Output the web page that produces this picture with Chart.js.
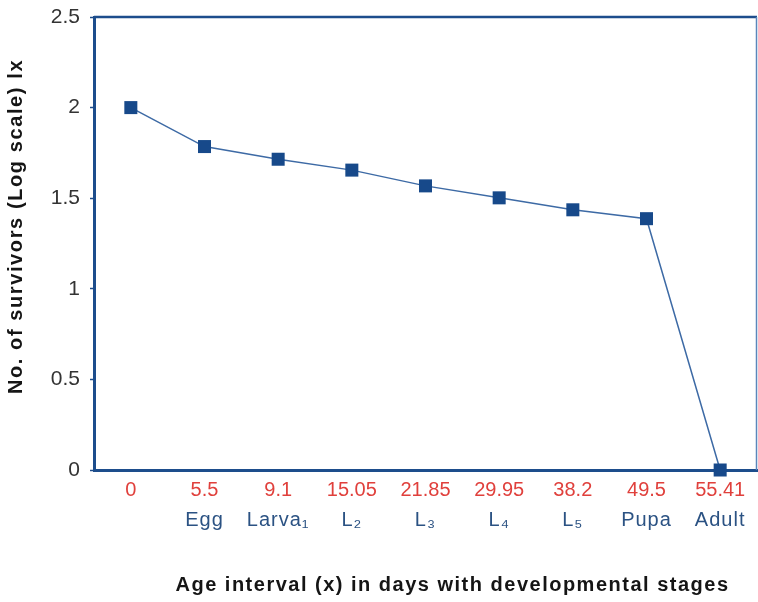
<!DOCTYPE html>
<html>
<head>
<meta charset="utf-8">
<script src="https://cdn.jsdelivr.net/npm/chart.js@4"></script>
<style>
  html, body { margin: 0; padding: 0; background: #fff; }
  #wrap { width: 758px; height: 602px; }
</style>
</head>
<body>
<div id="wrap"><canvas id="myChart"></canvas></div>
<script>
const ageDays = ['0', '5.5', '9.1', '15.05', '21.85', '29.95', '38.2', '49.5', '55.41'];
const stages = ['', 'Egg', 'Larva₁', 'L₂', 'L₃', 'L₄', 'L₅', 'Pupa', 'Adult'];
const survivorsLog = [2.0, 1.785, 1.715, 1.655, 1.568, 1.502, 1.436, 1.387, 0];
const yTicks = [0, 0.5, 1, 1.5, 2, 2.5];

const frameBlue = '#1d4d8c';
const font = "'Liberation Sans', Arial, sans-serif";

// spacing and small shifts for axis text (canvas has no css letter-spacing)
const textTweaks = {
    x: { labels: '0px' },
    stage: { labels: '1px', title: '1.5px', dx: 27, dy: 0 },
    y: { labels: '0px', title: '1.6px', dx: 0, dy: -17 }
};

const textSpacing = {
    id: 'textSpacing',
    beforeDraw(chart) {
        Object.values(chart.scales).forEach(scale => {
            const tw = textTweaks[scale.id];
            if (!tw || scale._tweaked) return;
            scale._tweaked = true;
            const origTitle = scale.drawTitle.bind(scale);
            const origLabels = scale.drawLabels.bind(scale);
            scale.drawTitle = function () {
                const c = chart.ctx;
                c.save();
                c.letterSpacing = tw.title || '0px';
                c.translate(tw.dx || 0, tw.dy || 0);
                origTitle();
                c.restore();
            };
            scale.drawLabels = function (area) {
                const c = chart.ctx;
                c.save();
                c.letterSpacing = tw.labels || '0px';
                origLabels(area);
                c.restore();
            };
        });
    }
};

// top and right edges of the plot frame
const frame = {
    id: 'frame',
    beforeDatasetsDraw(chart) {
        const { ctx, chartArea: a } = chart;
        ctx.save();
        ctx.strokeStyle = frameBlue;
        ctx.lineWidth = 2.5;
        ctx.beginPath();
        ctx.moveTo(a.left, a.top);
        ctx.lineTo(a.right, a.top);
        ctx.stroke();
        ctx.strokeStyle = '#5b86bb';
        ctx.lineWidth = 1.5;
        ctx.beginPath();
        ctx.moveTo(a.right - 0.5, a.top);
        ctx.lineTo(a.right - 0.5, a.bottom);
        ctx.stroke();
        ctx.restore();
    }
};

function noEdgePadding(scale) {
    scale.paddingLeft = 0;
    scale.paddingRight = 0;
    scale.paddingTop = 0;
    scale.paddingBottom = 0;
}

const ctx = document.getElementById('myChart');

new Chart(ctx, {
    type: 'line',
    data: {
        labels: ageDays,
        datasets: [{
            data: survivorsLog,
            borderColor: '#3d6aa5',
            borderWidth: 1.5,
            backgroundColor: '#17498a',
            pointBackgroundColor: '#17498a',
            pointBorderColor: '#17498a',
            pointBorderWidth: 0,
            pointStyle: 'rect',
            pointRadius: 9.2,
            pointHoverRadius: 9.2,
            tension: 0,
            clip: false
        }]
    },
    options: {
        responsive: true,
        maintainAspectRatio: false,
        animation: false,
        events: [],
        layout: { autoPadding: false, padding: { top: 17, right: 1, left: 0, bottom: 0 } },
        plugins: {
            legend: { display: false },
            tooltip: { enabled: false }
        },
        scales: {
            x: {
                type: 'category',
                position: 'bottom',
                weight: 0,
                offset: true,
                grid: { display: false, drawTicks: false },
                border: { display: true, color: frameBlue, width: 3 },
                ticks: {
                    color: '#e0403c',
                    font: { family: font, size: 20 },
                    padding: 8,
                    autoSkip: false,
                    maxRotation: 0
                },
                afterFit(scale) { scale.height = 36; noEdgePadding(scale); }
            },
            stage: {
                type: 'category',
                position: 'bottom',
                weight: 1,
                labels: stages,
                offset: true,
                grid: { display: false, drawTicks: false },
                border: { display: false },
                ticks: {
                    color: '#2b5283',
                    font: { family: font, size: 20 },
                    padding: 2,
                    autoSkip: false,
                    maxRotation: 0
                },
                title: {
                    display: true,
                    text: 'Age interval (x) in days with developmental stages',
                    color: '#151515',
                    font: { family: font, size: 20, weight: 'bold' },
                    padding: { top: 0, bottom: 5 }
                },
                afterFit(scale) { scale.height = 96; noEdgePadding(scale); }
            },
            y: {
                min: 0,
                max: 2.5,
                grid: { drawOnChartArea: false, drawTicks: true, tickLength: 4, color: frameBlue, tickWidth: 1.5 },
                border: { display: true, color: frameBlue, width: 3 },
                afterBuildTicks(scale) {
                    scale.ticks = yTicks.map(v => ({ value: v }));
                },
                ticks: {
                    color: '#333333',
                    font: { family: font, size: 21 },
                    padding: 10,
                    callback: v => String(v)
                },
                title: {
                    display: true,
                    text: 'No. of survivors (Log scale) lx',
                    color: '#151515',
                    font: { family: font, size: 20, weight: 'bold' },
                    padding: { top: 4, bottom: 0 }
                },
                afterFit(scale) { scale.width = 94; noEdgePadding(scale); }
            }
        }
    },
    plugins: [textSpacing, frame]
});
</script>
</body>
</html>
